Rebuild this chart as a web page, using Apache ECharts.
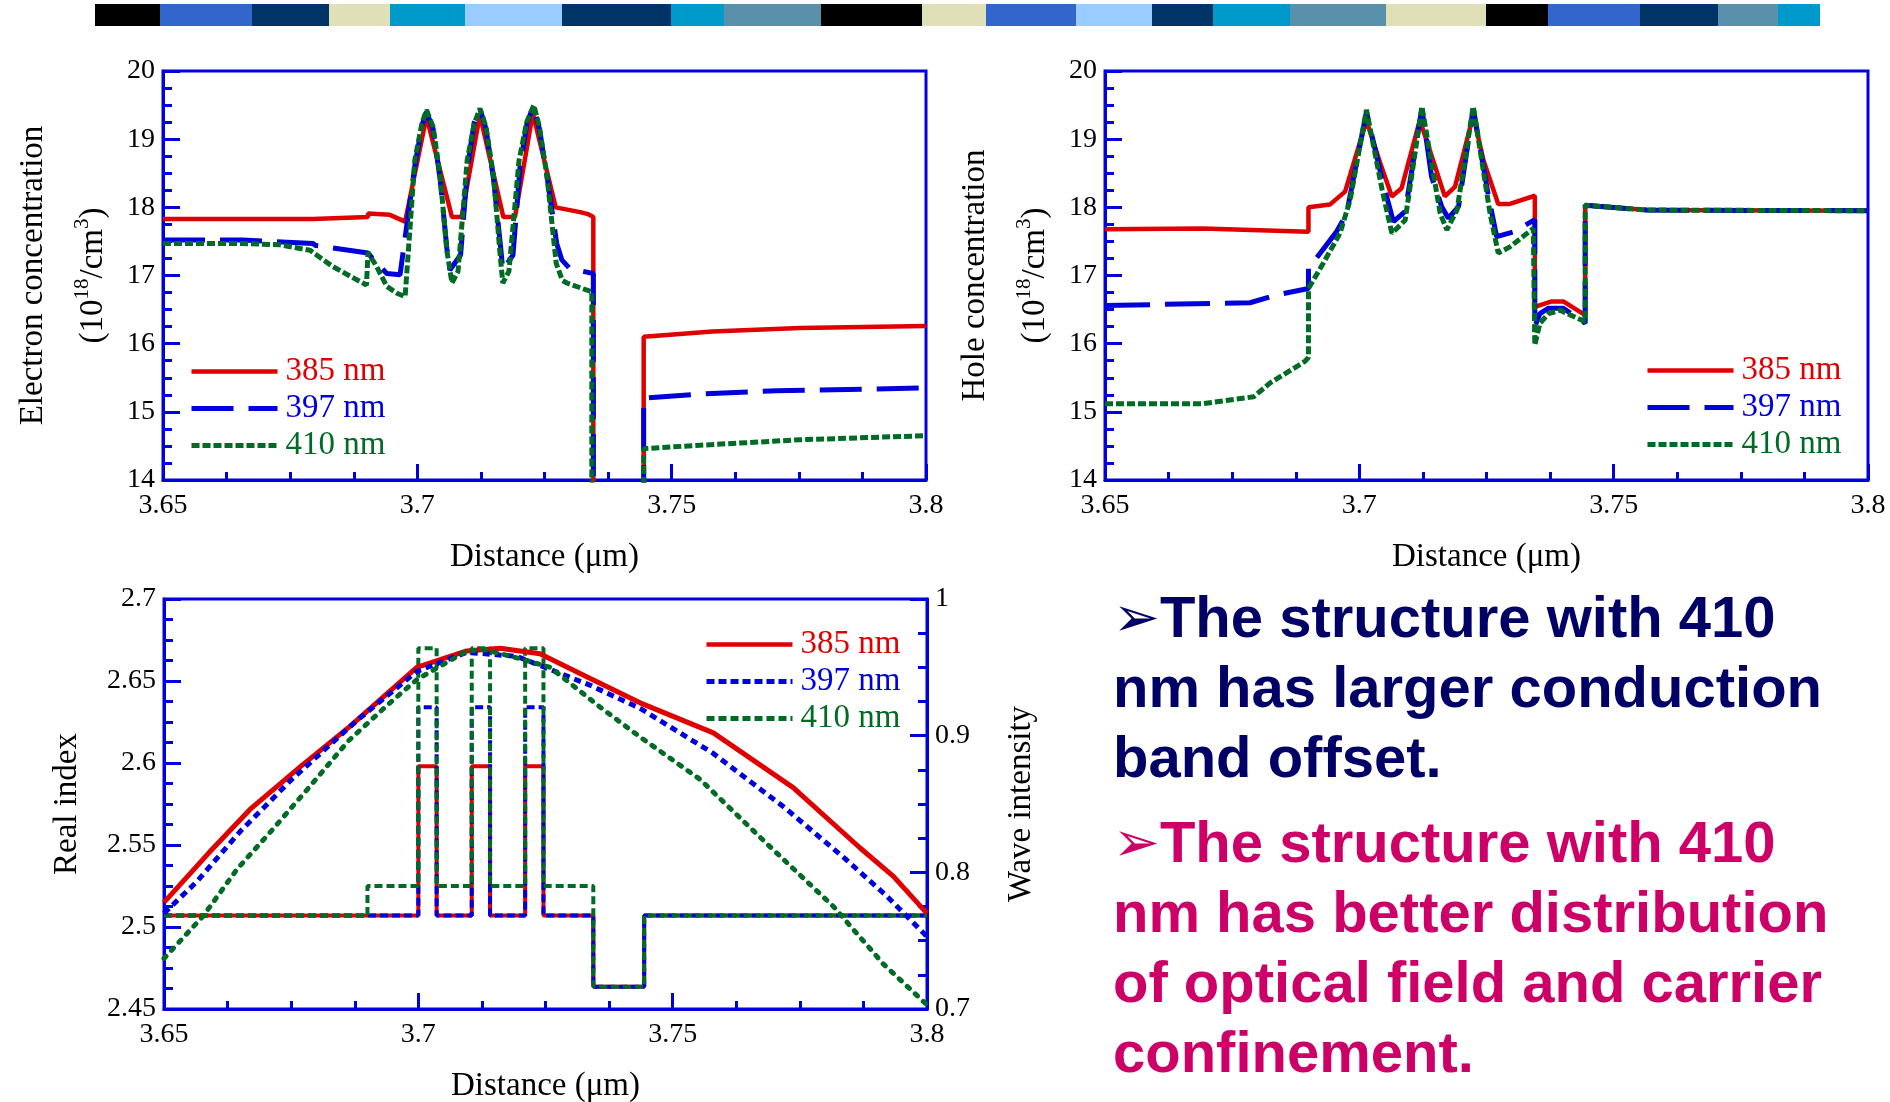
<!DOCTYPE html>
<html><head><meta charset="utf-8">
<script src="https://cdn.jsdelivr.net/npm/echarts@6/dist/echarts.min.js"></script>
<style>html,body{margin:0;padding:0;background:#fff}#c{width:1890px;height:1102px}</style>
</head><body><div id="c"></div><script>
// ---------------- data ----------------
const wavelengths = ['385 nm', '397 nm', '410 nm'];
const distanceTicks = [3.65, 3.70, 3.75, 3.80];
const concTicks = [14, 15, 16, 17, 18, 19, 20];
const indexTicks = [2.45, 2.5, 2.55, 2.6, 2.65, 2.7];
const waveTicks = [0.7, 0.8, 0.9, 1.0];

// Electron concentration (1e18/cm3) vs distance (um); 12 = off-scale low
const electron385 = [[3.65,17.83],[3.6795,17.83],[3.6903,17.86],[3.6903,17.91],[3.6946,17.89],[3.6976,17.79],[3.7018,19.33],[3.7068,17.86],[3.7087,17.86],[3.7123,19.36],[3.7169,17.86],[3.7192,17.86],[3.7227,19.38],[3.7272,18.0],[3.732,17.93],[3.7336,17.9],[3.7346,17.86],[3.7346,12],[3.7445,12],[3.7445,16.10],[3.758,16.18],[3.7752,16.23],[3.8,16.26]];
const electron397 = [[3.65,17.52],[3.6657,17.52],[3.6795,17.47],[3.680,17.44],[3.6903,17.33],[3.6913,17.24],[3.694,17.03],[3.6966,17.01],[3.6995,18.60],[3.7009,19.20],[3.7018,19.40],[3.7031,19.15],[3.7045,18.40],[3.7058,17.40],[3.7064,17.08],[3.7085,17.30],[3.7099,18.60],[3.7112,19.25],[3.7123,19.45],[3.7135,19.15],[3.7150,18.40],[3.7164,17.40],[3.7168,17.08],[3.7188,17.30],[3.7202,18.60],[3.7216,19.25],[3.7228,19.48],[3.7240,19.15],[3.7256,18.40],[3.7274,17.47],[3.7284,17.23],[3.730,17.10],[3.7346,17.03],[3.7346,12],[3.7445,12],[3.7445,15.20],[3.7556,15.26],[3.7707,15.31],[3.8,15.35]];
const electron410 = [[3.65,17.47],[3.6657,17.47],[3.673,17.45],[3.6789,17.37],[3.6834,17.13],[3.690,16.86],[3.6903,17.34],[3.692,17.13],[3.694,16.84],[3.696,16.74],[3.6976,16.69],[3.6995,18.69],[3.7009,19.23],[3.7018,19.43],[3.7031,19.18],[3.7045,18.45],[3.7058,17.37],[3.7068,16.89],[3.708,17.06],[3.7098,18.69],[3.7112,19.23],[3.7123,19.45],[3.7135,19.18],[3.715,18.45],[3.7162,17.37],[3.7168,16.89],[3.718,17.06],[3.7200,18.69],[3.7215,19.25],[3.7229,19.50],[3.7240,19.18],[3.7255,18.45],[3.7273,17.18],[3.7285,16.93],[3.7294,16.89],[3.7343,16.76],[3.7343,12],[3.7445,12],[3.7445,14.46],[3.7556,14.51],[3.7752,14.59],[3.8,14.65]];

// Hole concentration (1e18/cm3) vs distance (um)
const hole385 = [[3.65,17.68],[3.6692,17.69],[3.69,17.64],[3.69,18.0],[3.6942,18.04],[3.6972,18.23],[3.7014,19.27],[3.7041,18.65],[3.7064,18.16],[3.7083,18.28],[3.7119,19.28],[3.7145,18.69],[3.7168,18.16],[3.7188,18.30],[3.7224,19.35],[3.7244,18.69],[3.7273,18.05],[3.7296,18.05],[3.7345,18.17],[3.7345,16.54],[3.7378,16.62],[3.7401,16.62],[3.7444,16.42],[3.7444,18.03],[3.7565,17.96],[3.8,17.95]];
const hole397 = [[3.65,16.56],[3.6785,16.60],[3.684,16.72],[3.69,16.81],[3.69,17.15],[3.6915,17.25],[3.6955,17.64],[3.6975,17.91],[3.7014,19.40],[3.7045,18.40],[3.7067,17.79],[3.709,17.94],[3.7123,19.45],[3.7142,18.45],[3.7162,18.01],[3.7175,17.84],[3.7195,18.01],[3.7224,19.45],[3.7254,18.16],[3.727,17.57],[3.7303,17.64],[3.7345,17.82],[3.7345,16.25],[3.7355,16.44],[3.7372,16.52],[3.7401,16.52],[3.7444,16.30],[3.7444,18.03],[3.7565,17.96],[3.8,17.95]];
const hole410 = [[3.65,15.12],[3.6692,15.12],[3.6792,15.22],[3.6824,15.42],[3.6893,15.74],[3.69,15.80],[3.69,16.81],[3.6929,17.18],[3.6962,17.62],[3.6982,18.11],[3.7014,19.43],[3.7045,18.25],[3.7064,17.62],[3.709,17.81],[3.7123,19.48],[3.7159,17.91],[3.7172,17.67],[3.7192,17.96],[3.7224,19.48],[3.7257,17.91],[3.7273,17.33],[3.7296,17.42],[3.7342,17.69],[3.7345,15.98],[3.7355,16.30],[3.7372,16.44],[3.7395,16.49],[3.7444,16.32],[3.7444,18.03],[3.7565,17.96],[3.8,17.95]];

// Real index: layer edges (um) and index value starting at each edge
const layerEdges = [3.65, 3.69, 3.70, 3.7036, 3.7105, 3.7141, 3.7210, 3.7246, 3.7344, 3.7444, 3.80];
const index385 = [2.507, 2.507, 2.598, 2.507, 2.598, 2.507, 2.598, 2.507, 2.4636, 2.507, 2.507];
const index397 = [2.507, 2.507, 2.634, 2.507, 2.634, 2.507, 2.634, 2.507, 2.4636, 2.507, 2.507];
const index410 = [2.507, 2.525, 2.670, 2.525, 2.670, 2.525, 2.670, 2.525, 2.4636, 2.507, 2.507];

// Wave intensity vs distance (um)
const wave385 = [[3.65,0.778],[3.659,0.815],[3.6669,0.846],[3.6767,0.877],[3.6866,0.907],[3.6997,0.950],[3.7095,0.962],[3.7161,0.964],[3.7239,0.960],[3.7337,0.942],[3.7436,0.924],[3.758,0.902],[3.7737,0.862],[3.7868,0.818],[3.7934,0.797],[3.8,0.77]];
const wave397 = [[3.65,0.770],[3.6564,0.793],[3.665,0.830],[3.6751,0.868],[3.6879,0.911],[3.6997,0.947],[3.7095,0.961],[3.7194,0.958],[3.7337,0.937],[3.7436,0.920],[3.758,0.887],[3.7718,0.848],[3.7842,0.809],[3.792,0.783],[3.8,0.753]];
const wave410 = [[3.65,0.737],[3.6577,0.768],[3.6643,0.802],[3.6715,0.832],[3.6794,0.866],[3.6862,0.896],[3.6938,0.922],[3.6997,0.941],[3.7095,0.962],[3.713,0.963],[3.7213,0.955],[3.7259,0.950],[3.7357,0.921],[3.7436,0.899],[3.7554,0.868],[3.7685,0.821],[3.7816,0.775],[3.7914,0.733],[3.8,0.703]];

// decorative top strip
const stripEdges = [95,160,252,329,390,465,562,671,724,821,922,986,1076,1152,1213,1290,1386,1486,1548,1640,1718,1778,1820];
const stripColors = ['#000000','#3366CC','#003366','#DFE0B8','#0099CC','#99CCFF','#003366','#0099CC','#5891A9','#000000','#DFE0B8','#3366CC','#99CCFF','#003366','#0099CC','#5891A9','#DFE0B8','#000000','#3366CC','#003366','#5891A9','#0099CC'];

// ---------------- style ----------------
const AX = '#0000DD', RED = '#E00000', BLUE = '#0000DD', GREEN = '#006B24';
const SERIF = "'Liberation Serif','Times New Roman',serif";
const step = t => +(t[1] - t[0]).toFixed(6);

function xAxis(gi) {
  return {type:'value', gridIndex:gi, min:distanceTicks[0], max:distanceTicks[distanceTicks.length-1], interval:step(distanceTicks),
    axisLine:{show:true, onZero:false, lineStyle:{color:AX, width:3}},
    axisTick:{show:true, inside:true, length:16, lineStyle:{color:AX, width:3}},
    minorTick:{show:true, splitNumber:4, length:8, lineStyle:{color:AX, width:3}},
    splitLine:{show:false}, minorSplitLine:{show:false},
    axisLabel:{color:'#000', fontFamily:SERIF, fontSize:28, margin:12},
    name:'Distance (μm)', nameLocation:'middle', nameGap:61,
    nameTextStyle:{color:'#000', fontFamily:SERIF, fontSize:33}};
}
function yAxis(gi, ticks, extra) {
  return Object.assign({type:'value', gridIndex:gi, min:ticks[0], max:ticks[ticks.length-1], interval:step(ticks),
    axisLine:{show:true, onZero:false, lineStyle:{color:AX, width:3}},
    axisTick:{show:true, inside:true, length:17, lineStyle:{color:AX, width:3}},
    minorTick:{show:true, splitNumber:4, length:9, lineStyle:{color:AX, width:3}},
    splitLine:{show:false}, minorSplitLine:{show:false},
    axisLabel:{color:'#000', fontFamily:SERIF, fontSize:28, margin:8},
    nameLocation:'middle', nameRotate:90}, extra);
}
const nameRich = {
  a:{fontFamily:SERIF, fontSize:33, color:'#000', lineHeight:60},
  s:{fontFamily:SERIF, fontSize:21, color:'#000', padding:[0,0,22,0]}
};
function concName(first) {
  return {name:'{a|' + first + '}\n{a|(10}{s|18}{a|/cm}{s|3}{a|)}',
    nameTextStyle:{color:'#000', fontFamily:SERIF, fontSize:33, lineHeight:60, rich:nameRich}};
}
function line(name, data, xi, yi, color, width, type, extra) {
  return Object.assign({type:'line', name, data, xAxisIndex:xi, yAxisIndex:yi, symbol:'none', showSymbol:false,
    animation:false, clip:true, lineStyle:{color, width, type}, itemStyle:{color}}, extra || {});
}
const stepData = vals => layerEdges.map((x, i) => [x, vals[i]]);

const topStyles = [
  {color:RED, width:4.5, type:'solid'},
  {color:BLUE, width:5, type:[42,15]},
  {color:GREEN, width:5, type:[8,3]}
];
const botStyles = [
  {color:RED, width:4.5, type:'solid'},
  {color:BLUE, width:5, type:[8,4]},
  {color:GREEN, width:5, type:[8,4]}
];
const hidden = {color:'rgba(0,0,0,0)', borderColor:'rgba(0,0,0,0)', borderWidth:0, opacity:0};
function legend(left, top, styles) {
  return {left, top, padding:0, orient:'vertical', itemWidth:86, itemHeight:20, itemGap:4, selectedMode:false,
    textStyle:{fontFamily:SERIF, fontSize:33, lineHeight:33, padding:[0,0,0,3]},
    data: wavelengths.map((w, i) => ({name:w, textStyle:{color:styles[i].color}, lineStyle:styles[i], itemStyle:hidden}))};
}

const graphics = stripColors.map((c, i) => ({type:'rect', shape:{x:stripEdges[i], y:4, width:stripEdges[i+1]-stripEdges[i], height:22}, style:{fill:c}, silent:true}));
graphics.push({type:'text', left:1113, top:586, style:{
  text:'{a|➢}The structure with 410\nnm has larger conduction\nband offset.',
  font:'bold 58px "Liberation Sans", Arial, sans-serif', fill:'#000066', lineHeight:70,
  rich:{a:{fontFamily:'DejaVu Sans', fontSize:56, fill:'#000066', lineHeight:70}}}});
graphics.push({type:'text', left:1113, top:811, style:{
  text:'{a|➢}The structure with 410\nnm has better distribution\nof optical field and carrier\nconfinement.',
  font:'bold 58px "Liberation Sans", Arial, sans-serif', fill:'#CC0066', lineHeight:70,
  rich:{a:{fontFamily:'DejaVu Sans', fontSize:56, fill:'#CC0066', lineHeight:70}}}});

const grid = [
  {left:163, top:71, width:763, height:409},
  {left:1105, top:71, width:763, height:409},
  {left:164, top:599, width:763, height:410}
].map(g => Object.assign({show:true, borderColor:AX, borderWidth:3, backgroundColor:'transparent', outerBoundsMode:'none'}, g));

const option = {
  animation:false,
  backgroundColor:'#ffffff',
  grid,
  xAxis:[xAxis(0), xAxis(1), xAxis(2)],
  yAxis:[
    yAxis(0, concTicks, Object.assign({nameGap:36}, concName('Electron concentration'))),
    yAxis(1, concTicks, Object.assign({nameGap:40}, concName('Hole concentration'))),
    yAxis(2, indexTicks, {name:'Real index', nameGap:80, nameTextStyle:{color:'#000', fontFamily:SERIF, fontSize:33}}),
    yAxis(2, waveTicks, {position:'right', name:'Wave intensity', nameGap:78, nameTextStyle:{color:'#000', fontFamily:SERIF, fontSize:33}})
  ],
  legend:[legend(189, 355, topStyles), legend(1645, 354, topStyles), legend(704, 628, botStyles)],
  series:[
    line(wavelengths[0], electron385, 0, 0, RED, 4.5, 'solid'),
    line(wavelengths[1], electron397, 0, 0, BLUE, 5, [42,15]),
    line(wavelengths[2], electron410, 0, 0, GREEN, 5, [8,3]),
    line(wavelengths[0], hole385, 1, 1, RED, 4.5, 'solid'),
    line(wavelengths[1], hole397, 1, 1, BLUE, 5, [45,15]),
    line(wavelengths[2], hole410, 1, 1, GREEN, 5, [8,3]),
    line(wavelengths[0], stepData(index385), 2, 2, RED, 4, 'solid', {step:'end'}),
    line(wavelengths[1], stepData(index397), 2, 2, BLUE, 4, [8,4], {step:'end'}),
    line(wavelengths[2], stepData(index410), 2, 2, GREEN, 4, [8,4], {step:'end'}),
    line(wavelengths[0], wave385, 2, 3, RED, 5, 'solid'),
    line(wavelengths[1], wave397, 2, 3, BLUE, 5, [7,5]),
    line(wavelengths[2], wave410, 2, 3, GREEN, 5, [3,8], {lineStyle:{color:GREEN, width:5, type:[3,8], cap:'round'}})
  ],
  graphic: graphics
};
const chart = echarts.init(document.getElementById('c'), null, {renderer:'canvas'});
chart.setOption(option);
</script></body></html>
